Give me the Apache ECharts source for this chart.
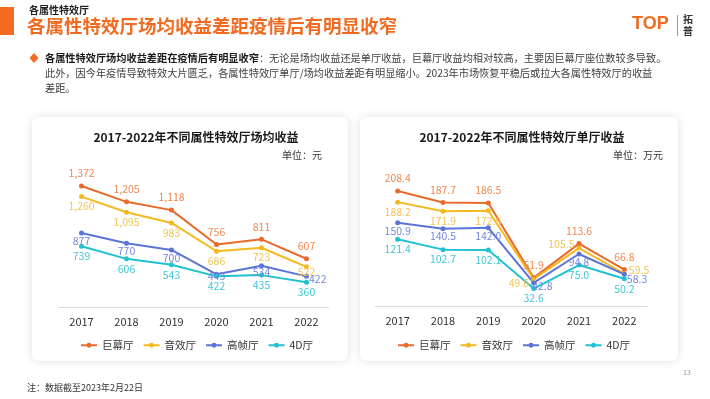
<!DOCTYPE html>
<html>
<head>
<meta charset="utf-8">
<script src="https://cdn.jsdelivr.net/npm/echarts@6.0.0/dist/echarts.min.js"></script>
<style>
  html, body { margin: 0; padding: 0; background: #fff; }
  #main { width: 710px; height: 399px; }
</style>
</head>
<body>
<div id="main"></div>
<script>
// data
var years = ['2017', '2018', '2019', '2020', '2021', '2022']
var hallTypes = ['巨幕厅', '音效厅', '高帧厅', '4D厅']

// 场均收益（元）
var perShowJumu = [1372, 1205, 1118, 756, 811, 607]
var perShowYinxiao = [1260, 1095, 983, 686, 723, 522]
var perShowGaozhen = [877, 770, 700, 443, 534, 422]
var perShow4D = [739, 606, 543, 422, 435, 360]

// 单厅收益（万元）
var perHallJumu = [208.4, 187.7, 186.5, 51.9, 113.6, 66.8]
var perHallYinxiao = [188.2, 171.9, 172.6, 49.6, 105.5, 59.5]
var perHallGaozhen = [150.9, 140.5, 142.0, 42.8, 94.8, 58.3]
var perHall4D = [121.4, 102.7, 102.1, 32.6, 75.0, 50.2]

var FONT = '"Noto Sans CJK SC", "Noto Sans", sans-serif'
var ORANGE = '#F26B21'
var lineColors = ['#E96A2A', '#F6B81F', '#5A74D8', '#20C1D1']
var labelColors = ['#EE8A50', '#F2C453', '#7488DD', '#40C7D5']
var labelPos = ['top', 'bottom', 'bottom', 'bottom']
var labelDist = [5, 2, 0, 2]

// per-point label tweaks to avoid overlaps (series index -> point index -> label opts)
var leftLabelFix = {
  1: { 5: { distance: -3 } },
  2: { 3: { distance: -6 }, 4: { distance: -1 }, 5: { position: 'right', offset: [0, 3] } }
}
var rightLabelFix = {
  1: { 3: { position: 'left', offset: [0, 4] }, 4: { position: 'left', offset: [0, -4] }, 5: { position: 'right', offset: [0, -4] } },
  2: { 3: { position: 'right', distance: -4, offset: [0, 3] }, 5: { position: 'right', offset: [0, 5] } }
}

function withComma(v) {
  return String(v).replace(/\B(?=(\d{3})+(?!\d))/g, ',')
}

function buildSeries(arrays, gridIdx, fix, fmt) {
  return arrays.map(function(arr, i) {
    var data = arr.map(function(v, j) {
      var f = fix[i] && fix[i][j]
      if (!f) return v
      return { value: v, label: f }
    })
    return {
      name: hallTypes[i],
      type: 'line',
      xAxisIndex: gridIdx,
      yAxisIndex: gridIdx,
      data: data,
      symbol: 'circle',
      symbolSize: 5,
      lineStyle: { color: lineColors[i], width: 2 },
      itemStyle: { color: lineColors[i] },
      label: {
        show: true,
        position: labelPos[i],
        distance: labelDist[i],
        color: labelColors[i],
        fontSize: 10.5,
        fontFamily: FONT,
        formatter: function(p) { return fmt(p.value) }
      },
      animation: false
    }
  })
}

function legendAt(left) {
  return {
    data: hallTypes,
    left: left,
    top: 340,
    padding: 0,
    itemWidth: 16,
    itemHeight: 6,
    itemGap: 9,
    textStyle: { fontSize: 10.5, color: '#333', fontFamily: FONT }
  }
}

function xAxisFor(gridIdx) {
  return {
    type: 'category',
    gridIndex: gridIdx,
    data: years,
    axisTick: { show: false },
    axisLine: { lineStyle: { color: '#DCDCDC', width: 1 } },
    axisLabel: { color: '#333', fontSize: 11, margin: 9, fontFamily: FONT }
  }
}

function txt(x, y, text, font, fill, align) {
  return {
    type: 'text',
    x: x,
    y: y,
    style: {
      text: text,
      font: font,
      fill: fill,
      textAlign: align || 'left',
      textVerticalAlign: 'middle'
    }
  }
}

var chart = echarts.init(document.getElementById('main'))

chart.setOption({
  backgroundColor: '#fff',
  textStyle: { fontFamily: FONT },
  graphic: [
    // cards
    { type: 'rect', z: -10, shape: { x: 32, y: 117, width: 316, height: 244, r: 6 },
      style: { fill: '#fff', shadowBlur: 10, shadowColor: 'rgba(0,0,0,0.12)' } },
    { type: 'rect', z: -10, shape: { x: 360, y: 117, width: 318, height: 244, r: 6 },
      style: { fill: '#fff', shadowBlur: 10, shadowColor: 'rgba(0,0,0,0.12)' } },
    // header
    { type: 'rect', shape: { x: 0, y: 7, width: 14, height: 28 }, style: { fill: ORANGE } },
    txt(29, 10, '各属性特效厅', 'bold 10px ' + FONT, '#222'),
    txt(27, 26, '各属性特效厅场均收益差距疫情后有明显收窄', 'bold 18.5px ' + FONT, ORANGE),
    // logo
    txt(632, 24, 'TOP', 'bold 18px "Liberation Sans", Arial, sans-serif', ORANGE),
    { type: 'rect', shape: { x: 677, y: 15, width: 1, height: 21 }, style: { fill: '#999' } },
    txt(688, 19, '拓', 'bold 10px ' + FONT, '#333', 'center'),
    txt(688, 31, '普', 'bold 10px ' + FONT, '#333', 'center'),
    // bullet
    { type: 'polygon', shape: { points: [[34, 53], [38.5, 58], [34, 63], [29.5, 58]] }, style: { fill: ORANGE } },
    {
      type: 'text', x: 45, y: 58,
      style: {
        text: '{b|各属性特效厅场均收益差距在疫情后有明显收窄}{n|：无论是场均收益还是单厅收益，巨幕厅收益均相对较高，主要因巨幕厅座位数较多导致。}',
        textVerticalAlign: 'middle',
        rich: {
          b: { fontSize: 10.2, fontWeight: 'bold', fill: '#1a1a1a', fontFamily: FONT },
          n: { fontSize: 10.2, fill: '#404040', fontFamily: FONT }
        }
      }
    },
    txt(45, 73, '此外，因今年疫情导致特效大片匮乏，各属性特效厅单厅/场均收益差距有明显缩小。2023年市场恢复平稳后或拉大各属性特效厅的收益', '10.2px ' + FONT, '#404040'),
    txt(45, 88, '差距。', '10.2px ' + FONT, '#404040'),
    // chart titles and units
    txt(196, 137, '2017-2022年不同属性特效厅场均收益', 'bold 12px ' + FONT, '#1a1a1a', 'center'),
    txt(522, 137, '2017-2022年不同属性特效厅单厅收益', 'bold 12px ' + FONT, '#1a1a1a', 'center'),
    txt(322, 155, '单位：元', '10px ' + FONT, '#333', 'right'),
    txt(663, 155, '单位：万元', '10px ' + FONT, '#333', 'right'),
    // footer
    txt(683, 372, '13', '7px ' + FONT, '#999'),
    txt(27, 388, '注：数据截至2023年2月22日', '9px ' + FONT, '#333')
  ],
  legend: [legendAt(80), legendAt(397)],
  grid: [
    { left: 59, width: 270, top: 169, bottom: 92 },
    { left: 375, width: 272, top: 167.8, bottom: 92.3 }
  ],
  xAxis: [xAxisFor(0), xAxisFor(1)],
  yAxis: [
    { type: 'value', gridIndex: 0, min: 100, max: 1550, show: false, splitLine: { show: false } },
    { type: 'value', gridIndex: 1, min: 0, max: 250, show: false, splitLine: { show: false } }
  ],
  series: buildSeries([perShowJumu, perShowYinxiao, perShowGaozhen, perShow4D], 0, leftLabelFix, withComma)
    .concat(buildSeries([perHallJumu, perHallYinxiao, perHallGaozhen, perHall4D], 1, rightLabelFix, function(v) { return v.toFixed(1) }))
})
</script>
</body>
</html>
